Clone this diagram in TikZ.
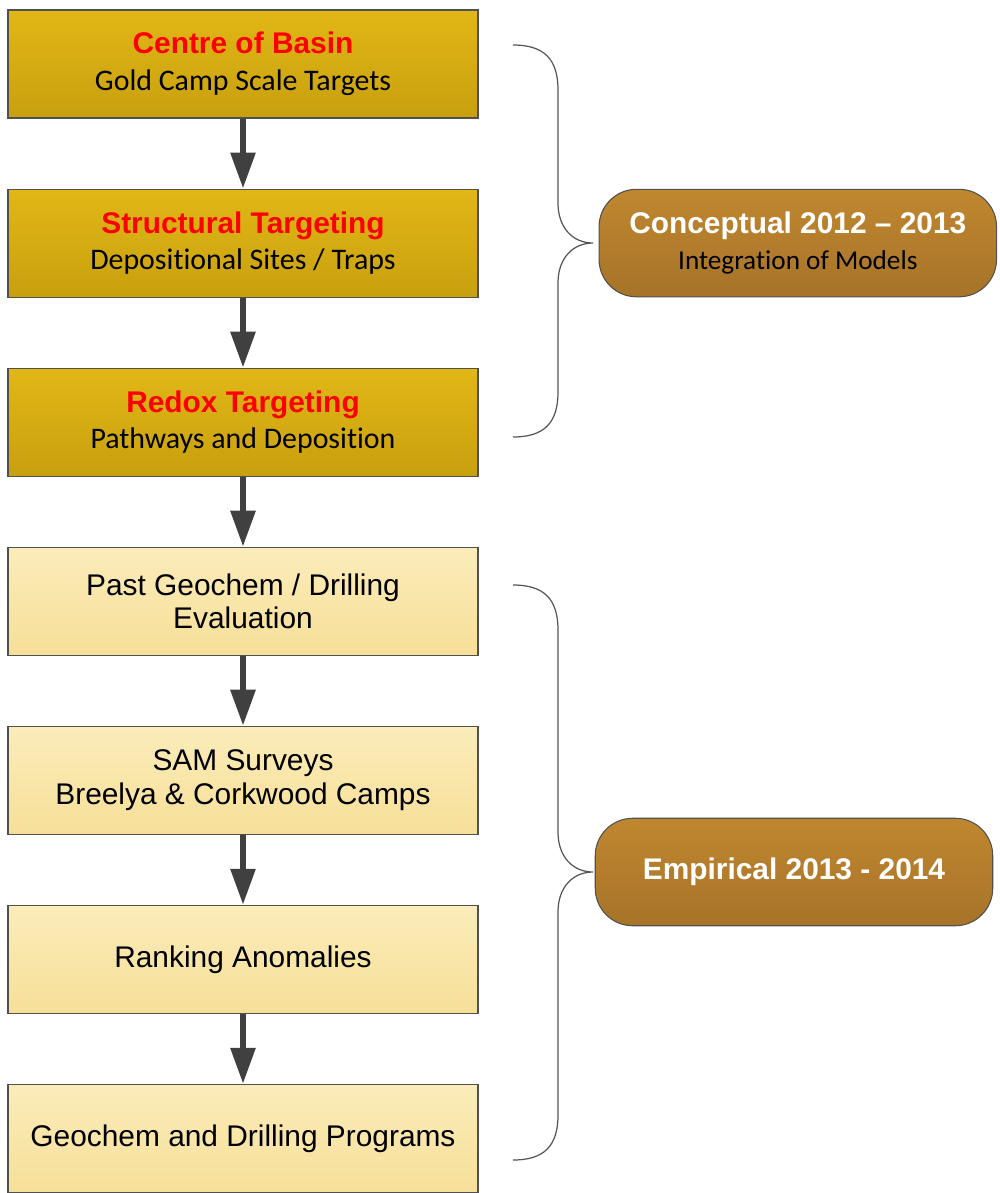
\documentclass[tikz,border=0pt]{standalone}
\usepackage{fontspec}
\setmainfont{Liberation Sans}
\newfontfamily\calibri[Ligatures=NoCommon]{Carlito}
\usepackage{tikz}
\usetikzlibrary{arrows.meta, positioning}
\usepackage{xcolor}
\definecolor{goldtop}{RGB}{225,183,22}
\definecolor{goldbot}{RGB}{200,160,14}
\definecolor{paletop}{RGB}{251,236,186}
\definecolor{palebot}{RGB}{246,223,152}
\definecolor{stagetop}{RGB}{192,135,48}
\definecolor{stagebot}{RGB}{166,115,40}
\definecolor{boxline}{RGB}{80,80,80}
\definecolor{arrowgray}{RGB}{64,64,64}
\definecolor{bracegray}{RGB}{85,85,85}

\begin{document}
\begin{tikzpicture}[
    conceptbox/.style={rectangle, draw=boxline, line width=0.6pt, top color=goldtop, bottom color=goldbot, minimum width=9.4cm, minimum height=2.16cm, align=center, font=\fontsize{17}{21}\selectfont},
    empiricbox/.style={rectangle, draw=boxline, line width=0.6pt, top color=paletop, bottom color=palebot, minimum width=9.4cm, minimum height=2.16cm, align=center, font=\fontsize{17}{19}\selectfont},
    stagebox/.style={rectangle, rounded corners=0.75cm, draw=boxline, line width=0.6pt, top color=stagetop, bottom color=stagebot, minimum width=7.95cm, minimum height=2.15cm, align=center, text=white, font=\bfseries\fontsize{17}{20}\selectfont},
    arrow/.style={-{Triangle[length=0.72cm, width=0.48cm]}, line width=3.4pt, draw=arrowgray},
    brace/.style={draw=bracegray, line width=0.7pt},
    node distance=1.40cm
]
    \useasboundingbox (0,0) rectangle (20,-23.86);

    % Conceptual steps
    \node[conceptbox] at (4.86,-1.28) (basin) {{\bfseries\color{red}Centre of Basin}\\{\calibri Gold Camp Scale Targets}};
    \node[conceptbox, below=of basin] (struct) {{\bfseries\color{red}Structural Targeting}\\{\calibri Depositional Sites / Traps}};
    \node[conceptbox, below=of struct] (redox) {{\bfseries\color{red}Redox Targeting}\\{\calibri Pathways and Deposition}};

    % Empirical steps
    \node[empiricbox, below=of redox] (past) {Past Geochem / Drilling\\Evaluation};
    \node[empiricbox, below=of past] (sam) {SAM Surveys\\Breelya \& Corkwood Camps};
    \node[empiricbox, below=of sam] (rank) {Ranking Anomalies};
    \node[empiricbox, below=of rank] (drill) {Geochem and Drilling Programs};

    % Stages
    \node[stagebox, right=2.4cm of struct] (concept) {Conceptual 2012 -- 2013\\{\calibri\mdseries\color{black}\fontsize{15.5}{18}\selectfont Integration of Models}};
    \node[stagebox] at (15.88,-17.44) (empiric) {Empirical 2013 - 2014};

    % Flow
    \draw[arrow] (basin) -- (struct);
    \draw[arrow] (struct) -- (redox);
    \draw[arrow] (redox) -- (past);
    \draw[arrow] (past) -- (sam);
    \draw[arrow] (sam) -- (rank);
    \draw[arrow] (rank) -- (drill);

    % Braces
    \foreach \ytop/\ytip/\ybot in {-0.90/-4.86/-8.74, -11.70/-17.44/-23.20}
        \draw[brace] (10.26,\ytop) .. controls +(0.62,0) and +(0,0.62) .. (11.16,{\ytop-0.9})
            -- (11.16,{\ytip+0.8}) .. controls +(0,-0.5) and +(-0.4,0) .. (11.86,\ytip)
            .. controls +(-0.4,0) and +(0,0.5) .. (11.16,{\ytip-0.8})
            -- (11.16,{\ybot+0.9}) .. controls +(0,-0.62) and +(0.62,0) .. (10.26,\ybot);
\end{tikzpicture}
\end{document}
